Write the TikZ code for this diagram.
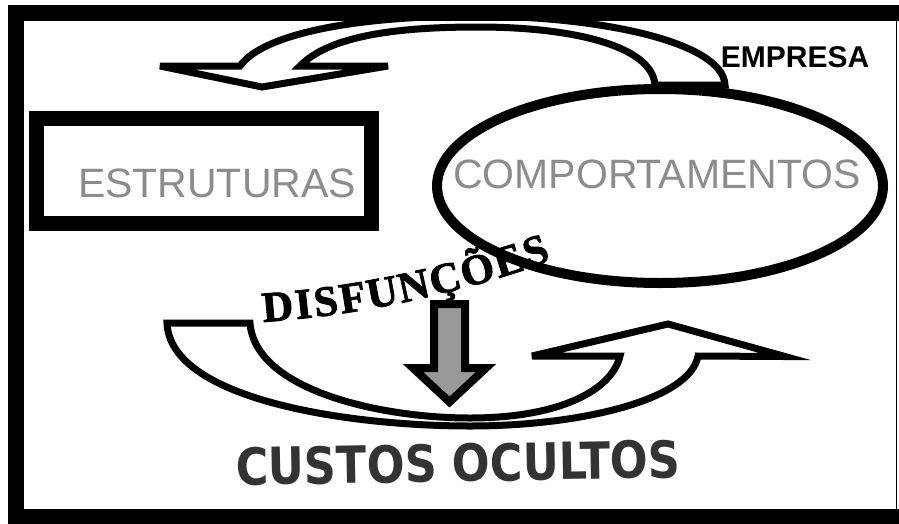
\documentclass[tikz,border=0pt]{standalone}
\usepackage{fontspec}
\setmainfont{Liberation Sans}
\newfontfamily\disffont{Liberation Serif}[BoldFeatures={FakeBold=2}]
\newfontfamily\heavyfont{DejaVu Sans}
\usetikzlibrary{shapes.geometric}
\definecolor{labelgray}{RGB}{140,140,140}
\definecolor{shaftgray}{RGB}{153,153,153}
\definecolor{costgray}{RGB}{51,51,51}

\begin{document}
\begin{tikzpicture}[x=1pt, y=-1pt,
  bent/.style={draw=black, fill=white, line width=7pt, line join=miter, miter limit=8},
  box/.style={draw=black, fill=white, inner sep=0pt},
  word/.style={font=\fontsize{41}{48}\selectfont, text=labelgray, inner sep=0pt},
  disf/.style={font=\disffont\bfseries\fontsize{43}{46}\selectfont, anchor=base, inner sep=0pt}]
\useasboundingbox (0,0) rectangle (899,523);
\fill[white] (0,0) rectangle (899,523);
% upper arrow, back to the left
\draw[bent] (725,85) .. controls (723,42) and (600,16) .. (475,16)
  .. controls (350,16) and (262,35) .. (240,66) -- (160,66) -- (262,87)
  -- (388,66) -- (300,66) .. controls (330,35) and (400,27) .. (478,27)
  .. controls (570,27) and (652,45) .. (655,85) -- cycle;
\node[box, ellipse, line width=10pt, minimum width=446pt, minimum height=194pt] (comp) at (660,186) {};
\node[box, rectangle, line width=15pt, minimum width=335pt, minimum height=105pt] (estr) at (204,171) {};
\node[word] (comptext) at (657,174) {COMPORTAMENTOS};
\node[word] (estrtext) at (217,183) {ESTRUTURAS};
\node[font=\bfseries\fontsize{30}{36}\selectfont, inner sep=0pt] (empresa) at (795,57) {EMPRESA};
% lower arrow, back to the right
\draw[bent] (167,323) -- (250,323) .. controls (255,390) and (380,418) .. (470,418)
  .. controls (560,418) and (612,390) .. (620,356) -- (532,356) -- (668,324)
  -- (785,356.5) -- (698,356) .. controls (690,400) and (580,426) .. (470,426)
  .. controls (350,426) and (170,400) .. (167,323) -- cycle;
\draw[fill=shaftgray, line width=8pt, line join=miter] (434,304) -- (465,304) -- (465,368)
  -- (486,368) -- (449.5,402) -- (413,368) -- (434,368) -- cycle;
% bent word, letter by letter
\foreach \ch/\px/\py/\ang [count=\i] in {D/278.8/320.7/5, I/304.9/318.2/6, S/327.6/315.5/7.5,
    F/354.8/311.5/9, U/384.6/306.2/10.5, N/416.6/299.6/12.5, Ç/448.4/292.1/14,
    Õ/481.1/283.3/16, E/512.4/273.8/17.5, S/540/264.2/19}
  \node[disf, rotate=\ang] (disf\i) at (\px,\py) {\ch};
\node[font=\heavyfont\bfseries\fontsize{44.5}{50}\selectfont, text=costgray, rotate=1, inner sep=0pt]
  (custos) at (458,463) {\scalebox{1}[1.15]{CUSTOS OCULTOS}};
% frame
\draw[line width=16pt] (16,13) rectangle (910,517);
\draw[line width=1.2pt] (896.5,13) -- (896.5,517);
\end{tikzpicture}
\end{document}
